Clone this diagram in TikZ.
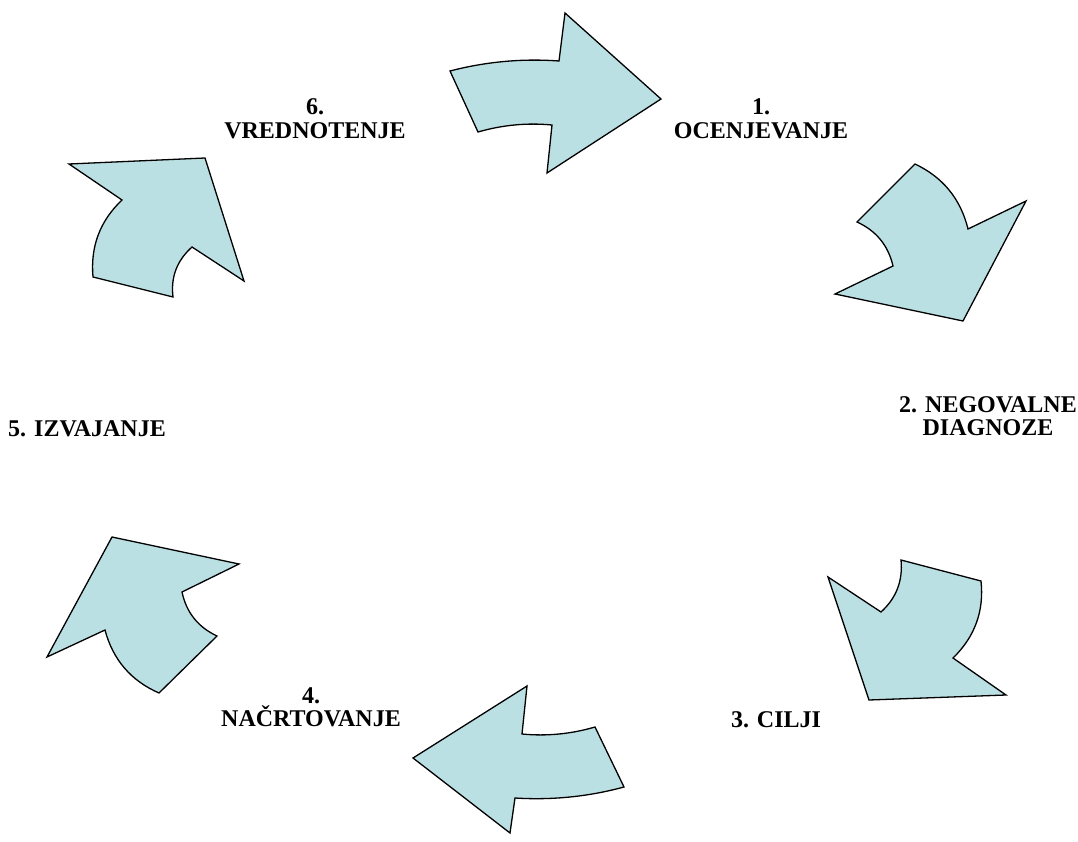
\documentclass[tikz,border=0pt]{standalone}
\usepackage{fontspec}
\setmainfont{Liberation Serif}
\begin{document}
\begin{tikzpicture}[x=1pt,y=-1pt,
  cyclearrow/.style={draw=black, fill=arrowfill, line width=1.3pt, line join=miter},
  steplabel/.style={font=\bfseries\fontsize{24}{23.6}\selectfont, align=center, inner sep=0pt, anchor=north}]
\definecolor{arrowfill}{HTML}{BBE0E3}
\useasboundingbox (0,0) rectangle (1078,842);
% arrow 1 (top)
\draw[cyclearrow] (450,71) .. controls (485.8,61.7) and (522.2,58.3) .. (559,61) -- (565,13) -- (661,99) -- (547,173) -- (552,125)
  .. controls (526.9,122.6) and (502.3,125.0) .. (478,132) -- cycle;
% arrow 2 (upper right)
\draw[cyclearrow] (915,164) .. controls (943.0,177.3) and (960.6,198.9) .. (968,229) -- (1026,201) -- (963,321) -- (835,294) -- (893,266)
  .. controls (888.2,245.4) and (876.2,230.8) .. (857,222) -- cycle;
% arrow 3 (lower right)
\draw[cyclearrow] (901,560) -- (981,581) .. controls (984.2,611.2) and (974.8,636.8) .. (953,658) -- (1006,695) -- (869,700) -- (828,577) -- (881,612)
  .. controls (896.4,598.0) and (903.0,580.6) .. cycle;
% arrow 4 (bottom)
\draw[cyclearrow] (595,727) .. controls (571.1,734.0) and (546.7,736.4) .. (522,734) -- (527,686) -- (413,758) -- (510,833) -- (515,798)
  .. controls (551.9,800.3) and (588.3,796.7) .. (624,787) -- cycle;
% arrow 5 (lower left)
\draw[cyclearrow] (112,537) -- (239,564) -- (182,592) .. controls (186.4,612.5) and (198.0,627.1) .. (217,636) -- (159,693)
  .. controls (130.9,680.7) and (112.9,659.7) .. (105,630) -- (47,657) -- cycle;
% arrow 6 (upper left)
\draw[cyclearrow] (69,164) -- (205,158) -- (244,281) -- (192,247) .. controls (177.0,260.4) and (170.6,277.0) .. (173,297) -- (93,277)
  .. controls (90.3,246.6) and (99.9,221.0) .. (122,200) -- cycle;
% labels
\node[steplabel] (l1) at (761,98.5) {1.\\OCENJEVANJE};
\node[steplabel] (l2) at (988,396) {2. NEGOVALNE\\DIAGNOZE};
\node[steplabel] (l3) at (776,711) {3. CILJI};
\node[steplabel] (l4) at (311,687) {4.\\NAČRTOVANJE};
\node[steplabel] (l5) at (87,420) {5. IZVAJANJE};
\node[steplabel] (l6) at (315,98.5) {6.\\VREDNOTENJE};
\end{tikzpicture}
\end{document}
